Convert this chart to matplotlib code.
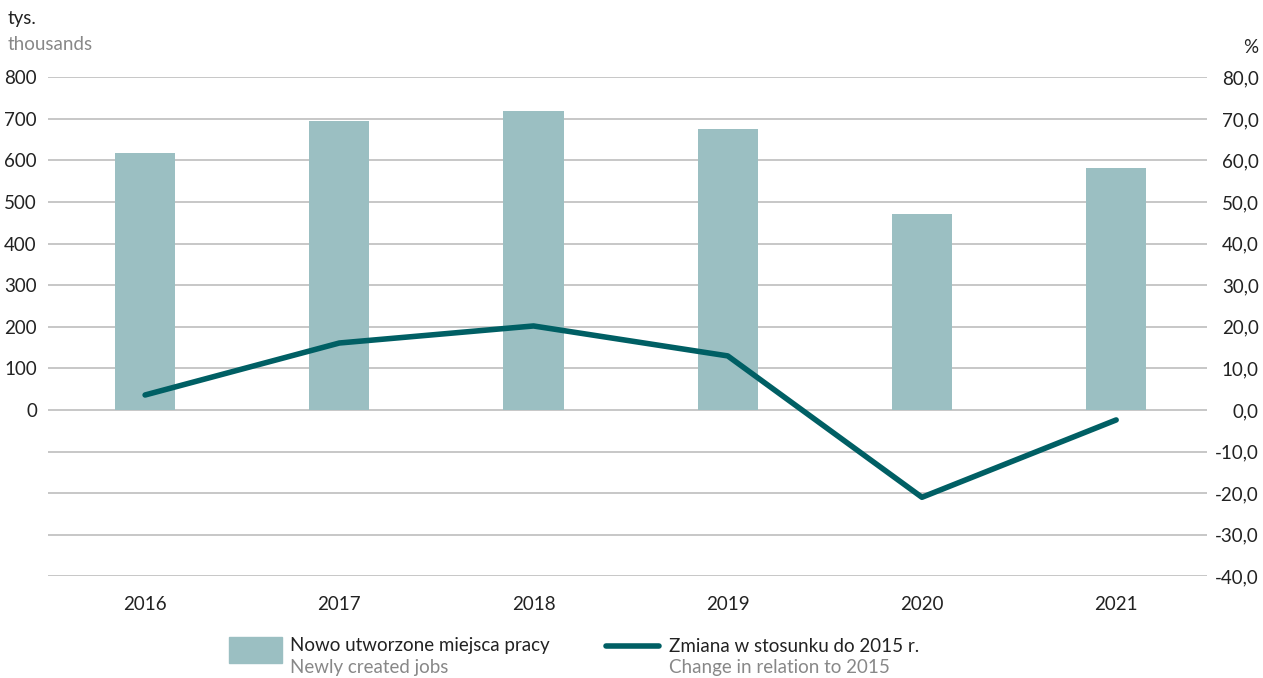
import matplotlib.pyplot as plt
from matplotlib.patches import Rectangle
from matplotlib.lines import Line2D

years = ['2016', '2017', '2018', '2019', '2020', '2021']
jobs = [619, 694, 718, 675, 471, 582]          # tys. / thousands
change = [3.6, 16.1, 20.2, 13.0, -21.0, -2.4]  # % vs 2015

bar_color = '#9bbfc2'
line_color = '#005f64'
grid_color = '#bdbdbd'
plt.rcParams['font.family'] = ['Lato', 'DejaVu Sans']
fs = 13.5

fig = plt.figure(figsize=(12.63, 6.78), dpi=100)
ax = fig.add_axes([0.038, 0.150, 0.918, 0.736])
ax2 = ax.twinx()

x = list(range(len(years)))
ax.bar(x, jobs, width=0.31, color=bar_color, zorder=2)
ax.set_ylim(-400, 800)
ax.set_xlim(-0.5, 5.47)
ax.set_yticks(range(-400, 801, 100))
ax.set_yticklabels(['' if v < 0 else str(v) for v in range(-400, 801, 100)])
ax.grid(axis='y', color=grid_color, lw=1.2, zorder=0)
ax.set_axisbelow(True)
ax.set_xticks(x)
ax.set_xticklabels(years)

ax2.plot(x, change, color=line_color, lw=4, solid_capstyle='round', zorder=3)
ax2.set_ylim(-40, 80)
ax2.set_yticks(range(-40, 81, 10))
ax2.set_yticklabels([f'{v},0' for v in range(-40, 81, 10)], ha='right')

for a in (ax, ax2):
    for s in a.spines.values():
        s.set_visible(False)
    a.tick_params(length=0, labelsize=fs, colors='#222222')
ax.tick_params(axis='x', pad=14)
ax.tick_params(axis='y', pad=8)
ax2.tick_params(axis='y', pad=37)

fig.text(0.006, 0.972, 'tys.', fontsize=fs, color='#222222', va='center')
fig.text(0.006, 0.935, 'thousands', fontsize=fs, color='#888888', va='center')
fig.text(0.996, 0.930, '%', fontsize=fs, color='#222222', va='center', ha='right')

# legend drawn by hand
fig.patches.append(Rectangle((229 / 1263, 1 - 663 / 678), 53 / 1263, 26 / 678,
                             transform=fig.transFigure, color=bar_color))
fig.lines.append(Line2D([606 / 1263, 659 / 1263], [1 - 646 / 678] * 2,
                        transform=fig.transFigure, color=line_color, lw=4,
                        solid_capstyle='round'))
fig.text(290 / 1263, 1 - 646 / 678, 'Nowo utworzone miejsca pracy', fontsize=fs,
         color='#222222', va='center')
fig.text(290 / 1263, 1 - 668 / 678, 'Newly created jobs', fontsize=fs,
         color='#888888', va='center')
fig.text(669 / 1263, 1 - 646 / 678, 'Zmiana w stosunku do 2015 r.', fontsize=fs,
         color='#222222', va='center')
fig.text(669 / 1263, 1 - 668 / 678, 'Change in relation to 2015', fontsize=fs,
         color='#888888', va='center')

fig.savefig('out.png', dpi=100)
